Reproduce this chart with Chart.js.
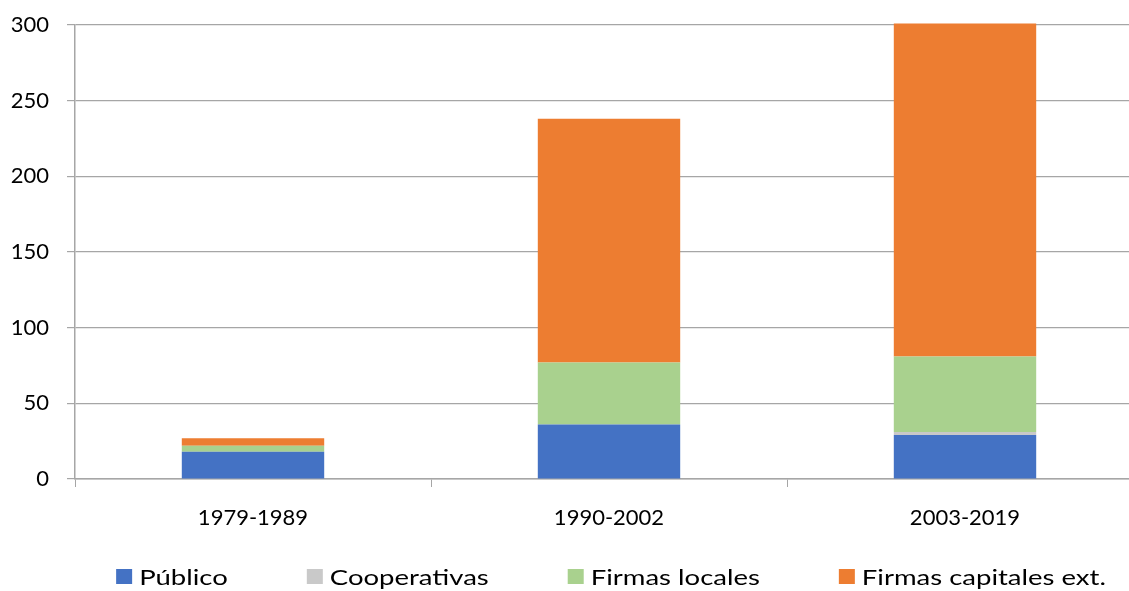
<!DOCTYPE html>
<html>
<head>
<meta charset="utf-8">
<script src="https://cdn.jsdelivr.net/npm/chart.js@4/dist/chart.umd.min.js"></script>
<style>
  html, body { margin: 0; padding: 0; background: #fff; overflow: hidden; }
  #wrap { width: 1143px; height: 591px; }
</style>
</head>
<body>
<div id="wrap"><canvas id="myChart" width="1143" height="591"></canvas></div>
<script>
// periodos y valores por tipo de operador
const periodos = ["1979-1989", "1990-2002", "2003-2019"];
const publico = [18, 36, 29];
const cooperativas = [0, 0, 2];
const firmasLocales = [4, 41, 50];
const firmasExt = [5, 161, 220];
const yTicks = [0, 50, 100, 150, 200, 250, 300];

const fuente = "Lato, 'Open Sans', sans-serif";
const gris = "#a6a6a6";

function serie(label, data, color) {
  return {
    label: label,
    data: data,
    backgroundColor: color,
    borderWidth: 0,
    barPercentage: 0.4,
    categoryPercentage: 1.0,
    clip: 2
  };
}

// leyenda abajo, dibujada a mano para controlar el espaciado
const leyendaAbajo = {
  id: 'leyendaAbajo',
  afterDraw(chart) {
    const c = chart.ctx;
    const caja = 16, hueco = 7, sep = 79, yMid = 577, estirar = 1.25;
    c.save();
    c.font = "22px " + fuente;
    c.textBaseline = 'middle';
    const items = chart.data.datasets.map(ds => ({
      text: ds.label, color: ds.backgroundColor, w: c.measureText(ds.label).width * estirar
    }));
    let total = items.reduce((s, it) => s + caja + hueco + it.w, 0) + sep * (items.length - 1);
    let x = 611 - total / 2;
    items.forEach(it => {
      c.fillStyle = it.color;
      c.fillRect(x, yMid - 8, caja, 15);
      c.fillStyle = "#000";
      c.save();
      c.translate(x + caja + hueco, yMid + 1);
      c.scale(estirar, 1);
      c.fillText(it.text, 0, 0);
      c.restore();
      x += caja + hueco + it.w + sep;
    });
    c.restore();
  }
};

var ctx = document.getElementById("myChart").getContext("2d");
var myChart = new Chart(ctx, {
  type: 'bar',
  data: {
    labels: periodos,
    datasets: [
      serie("Público", publico, "#4472C4"),
      serie("Cooperativas", cooperativas, "#C9C9C9"),
      serie("Firmas locales", firmasLocales, "#A9D18E"),
      serie("Firmas capitales ext.", firmasExt, "#ED7D31")
    ]
  },
  options: {
    responsive: false,
    animation: false,
    layout: { padding: { top: 25, left: 0, right: 0, bottom: 44 } },
    plugins: {
      tooltip: { enabled: false },
      legend: { display: false }
    },
    scales: {
      x: {
        stacked: true,
        afterFit: function(scale) { scale.height = 68; },
        border: { color: gris, width: 1.5 },
        grid: { drawOnChartArea: false, color: gris, tickLength: 8, offset: true },
        ticks: { color: "#000", font: { family: fuente, size: 22 }, padding: 18 }
      },
      y: {
        stacked: true,
        min: 0,
        max: 300,
        afterFit: function(scale) {
          scale.width = 75;
          scale.paddingTop = 0;
          scale.paddingBottom = 0;
        },
        afterBuildTicks: function(scale) {
          scale.ticks = yTicks.map(v => ({ value: v }));
        },
        border: { color: gris, width: 1.5 },
        grid: { color: gris, lineWidth: 1.2, tickLength: 8 },
        ticks: { color: "#000", font: { family: fuente, size: 22 }, padding: 18 }
      }
    }
  },
  plugins: [leyendaAbajo]
});
</script>
</body>
</html>
